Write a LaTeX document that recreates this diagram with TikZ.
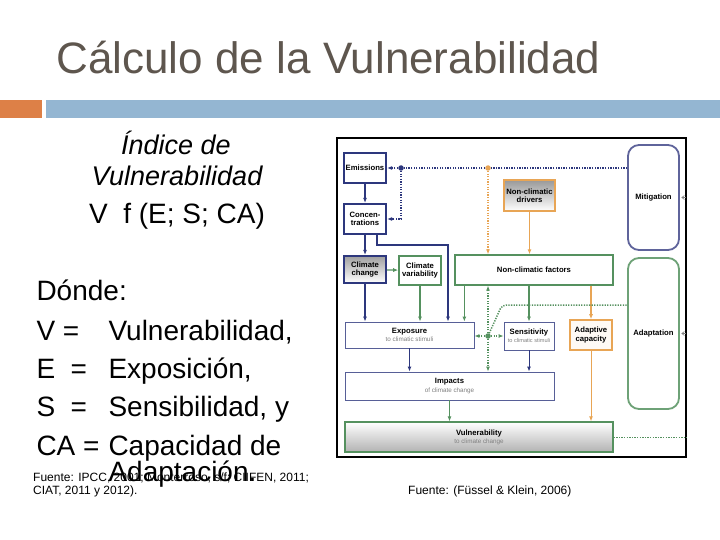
\documentclass[tikz,border=0pt]{standalone}
\usepackage{fontspec}
\setmainfont{Liberation Sans}
\usetikzlibrary{arrows.meta}

\definecolor{titlegray}{RGB}{94,86,78}
\definecolor{barorange}{RGB}{221,128,71}
\definecolor{barblue}{RGB}{148,182,210}
\definecolor{navy}{RGB}{45,55,125}
\definecolor{leaf}{RGB}{85,145,95}
\definecolor{amber}{RGB}{232,165,85}
\definecolor{slate}{RGB}{95,100,155}
\newcommand{\subtxt}{\fontsize{6.3}{7}\selectfont\mdseries\color{gray}}

\begin{document}
\begin{tikzpicture}[x=1pt,y=-1pt,>={Latex[length=5pt,width=4pt]},
  big/.style={font=\fontsize{28}{30}\selectfont},
  bigit/.style={font=\fontsize{27}{30}\selectfont\itshape},
  lbl/.style={align=center, inner sep=1pt, fill=white,
    font=\fontsize{7.7}{8.2}\selectfont\bfseries},
  navybox/.style={lbl, draw=navy, line width=2.2pt, minimum width=42, minimum height=30},
  leafbox/.style={lbl, draw=leaf, line width=1.6pt},
  amberbox/.style={lbl, draw=amber, line width=1.6pt},
  thinbox/.style={lbl, draw=navy!80, line width=0.8pt},
  roundbox/.style={lbl, line width=1.8pt, rounded corners=11pt,
    minimum width=51},
  navyarr/.style={->, draw=navy, line width=1.4pt},
  leafarr/.style={->, draw=leaf, line width=1.2pt},
  amberarr/.style={->, draw=amber, line width=1.2pt},
  navydot/.style={draw=navy, line width=1.5pt, dash pattern=on 1.3pt off 1.3pt},
  amberdot/.style={draw=amber, line width=1.5pt, dash pattern=on 1.3pt off 1.3pt},
  leafdot/.style={draw=leaf, line width=1.5pt, dash pattern=on 1.3pt off 1.3pt},
  dotnode/.style={circle, inner sep=0pt, minimum size=5.5pt}]
  \useasboundingbox (0,0) rectangle (720,540);
  % Header.
  \node[anchor=base west, text=titlegray, font=\fontsize{44}{48}\selectfont]
    (title) at (53,74) {Cálculo de la Vulnerabilidad};
  \fill[barorange] (0,100) rectangle (42,118);
  \fill[barblue] (46,100) rectangle (720,118);
  % Index text.
  \node[anchor=base, bigit] (idx1) at (176,155) {Índice de};
  \node[anchor=base, bigit] (idx2) at (177,186) {Vulnerabilidad};
  \node[anchor=base, big] (idx3) at (177,224) {V\ \ f (E; S; CA)};
  % Definitions.
  \node[anchor=base west, big] (donde) at (33,300) {Dónde:};
  \node[anchor=base west, big] (defv) at (33,340) {\makebox[72pt][l]{V =}Vulnerabilidad,};
  \node[anchor=base west, big] (defe) at (33,378) {\makebox[72pt][l]{E\ \ =}Exposición,};
  \node[anchor=base west, big] (defs) at (33,416) {\makebox[72pt][l]{S\ \ =}Sensibilidad, y};
  \node[anchor=base west, big] (defca) at (33,455) {\makebox[72pt][l]{CA =}Capacidad de};
  \node[anchor=base west, big] (defad) at (105,481) {Adaptación.};
  \node[anchor=base west, align=left, font=\fontsize{12}{13}\selectfont, inner sep=0pt]
    (src1) at (33,494) {Fuente: IPCC, 2001; Monterroso, s/f; CIIFEN, 2011;\\CIAT, 2011 y 2012).};
  \node[anchor=base west, font=\fontsize{12}{13}\selectfont, inner sep=0pt]
    (src2) at (408,494) {Fuente: (Füssel \& Klein, 2006)};

  % Framework figure.
  \node[draw=black, line width=1.2pt, minimum width=349, minimum height=319,
    inner sep=0pt] (frame) at (511.5,297.5) {};
  \node[navybox] (emis) at (365,168) {Emissions};
  \node[navybox] (conc) at (365,219) {Concen-\\trations};
  \node[navybox, minimum height=27, top color=gray!75, bottom color=white]
    (cc) at (365,269.5) {Climate\\change};
  \node[leafbox, minimum width=42, minimum height=29] (cv) at (420,270.5) {Climate\\variability};
  \node[amberbox, minimum width=51, minimum height=31, top color=gray!80,
    bottom color=white] (ncd) at (529.5,195.5) {Non-climatic\\drivers};
  \node[leafbox, line width=1.3pt, minimum width=158, minimum height=30]
    (ncf) at (534,270) {Non-climatic factors};
  \node[roundbox, draw=slate, minimum height=105] (miti) at (653.5,197.5) {Mitigation};
  \node[roundbox, draw=leaf!85, minimum height=151] (adapt) at (653.5,333.5) {Adaptation};
  \node[thinbox, minimum width=129, minimum height=26] (expo) at (409.5,335)
    {Exposure\\{\subtxt to climatic stimuli}};
  \node[thinbox, minimum width=50, minimum height=28, inner sep=0.5pt] (sens) at (529,336)
    {Sensitivity\\{\subtxt\fontsize{5.6}{6.5}\selectfont to climatic stimuli}};
  \node[amberbox, fill=amber!6, minimum width=42, minimum height=30] (acap) at (591,335)
    {Adaptive\\capacity};
  \node[thinbox, minimum width=209, minimum height=28] (imp) at (449.5,386)
    {Impacts\\{\subtxt of climate change}};
  \node[leafbox, line width=1.3pt, minimum width=268, minimum height=30, top color=white,
    bottom color=gray!60] (vuln) at (479,437) {Vulnerability\\{\subtxt to climate change}};

  % Solid links.
  \coordinate (concb) at ([xshift=-10pt]conc.south east);
  \coordinate (expob) at ([xshift=38.5pt]expo.north);
  \coordinate (ncfa) at ([xshift=10pt]ncf.south west);
  \draw[navyarr] (emis) -- (conc);
  \draw[navyarr] (conc) -- (cc);
  \draw[navyarr] (concb) -- ++(0,10) -| (expob);
  \draw[leafarr] (cc) -- (cv);
  \draw[navyarr] (cc) -- (cc |- expo.north);
  \draw[leafarr] (cv) -- (cv |- expo.north);
  \draw[leafarr] (ncfa) -- (ncfa |- expo.north);
  \draw[leafarr] (sens.north |- ncf.south) -- (sens);
  \draw[amberarr] (acap.north |- ncf.south) -- (acap);
  \draw[amberarr] (ncd) -- (ncd |- ncf.north);
  \draw[navyarr] (expo) -- (expo |- imp.north);
  \draw[navyarr, line width=1pt] (sens) -- (sens |- imp.north);
  \draw[leafarr, line width=0.9pt] (imp) -- (imp |- vuln.north);
  \draw[amberarr, line width=0.9pt] (acap) -- (acap |- vuln.north);

  % Dotted links.
  \node[dotnode, fill=navy] (bdot) at (401,168) {};
  \node[dotnode, fill=amber] (odot) at (488,168) {};
  \node[dotnode, fill=leaf] (gdot) at (488,336) {};
  \coordinate (gknee) at (502,305);
  \draw[navydot] (miti.west |- emis.east) -- (odot) -- (bdot);
  \draw[navydot, ->] (bdot) -- (emis.east);
  \draw[navydot, ->] (bdot) |- (conc.east);
  \draw[amberdot, ->] (odot) -- (odot |- ncf.north);
  \draw[leafdot, ->] (gdot) -- (gdot -| expo.east);
  \draw[leafdot, ->] (gdot) -- (gdot -| sens.west);
  \draw[leafdot, ->] (gdot) -- (gdot |- ncf.south);
  \draw[leafdot, ->] (gdot) -- (gdot |- imp.north);
  \draw[leafdot, rounded corners=4pt] (gdot) -- (gknee) -- (gknee -| adapt.west);
  \draw[leafdot, line width=0.8pt] (vuln) -- (vuln -| frame.east);
  \draw[-{Straight Barb[length=2.5pt,width=4pt]}, gray, line width=0.6pt]
    ([xshift=-1pt]miti.east -| frame.east) -- ([xshift=1.5pt]miti.east);
  \draw[-{Straight Barb[length=2.5pt,width=4pt]}, gray, line width=0.6pt]
    ([xshift=-1pt]adapt.east -| frame.east) -- ([xshift=1.5pt]adapt.east);
\end{tikzpicture}
\end{document}
